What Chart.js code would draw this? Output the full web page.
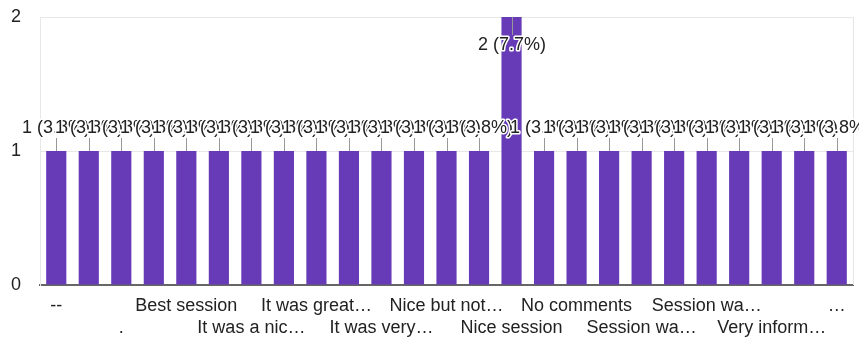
<!DOCTYPE html>
<html>
<head>
<meta charset="utf-8">
<script src="https://cdn.jsdelivr.net/npm/chart.js@4/dist/chart.umd.min.js"></script>
<style>
  html, body { margin: 0; padding: 0; background: #fff; }
  #wrap { width: 859px; height: 340px; }
</style>
</head>
<body>
<div id="wrap"><canvas id="answers"></canvas></div>
<script>
// responses, sorted like the form summary (only every other label is shown)
var categories = [
  '--', '---', '.', 'Awesome session', 'Best session', 'Good session',
  'It was a nic\u2026', 'It was good', 'It was great\u2026', 'It was helpful',
  'It was very\u2026', 'Nice', 'Nice but not\u2026', 'Nice explanation',
  'Nice session', 'Nil', 'No comments', 'Really good', 'Session wa\u2026',
  'Session was good', 'Session wa\u2026', 'Very good', 'Very inform\u2026',
  'Very nice', '\u2026'
];
var counts = [1, 1, 1, 1, 1, 1, 1, 1, 1, 1, 1, 1, 1, 1, 2, 1, 1, 1, 1, 1, 1, 1, 1, 1, 1];
var yTicks = [0, 1, 2];

var total = counts.reduce(function (a, b) { return a + b; }, 0);
var FONT = "'Liberation Sans', Arial, sans-serif";
var FS = 18;

Chart.defaults.font.family = FONT;
Chart.defaults.font.size = FS;
Chart.defaults.color = '#222';

// value labels with a small leader line, Google Forms style
var barLabels = {
  id: 'barLabels',
  afterDatasetsDraw: function (chart) {
    var ctx = chart.ctx;
    var area = chart.chartArea;
    var meta = chart.getDatasetMeta(0);
    ctx.save();
    ctx.font = FS + 'px ' + FONT;
    ctx.textAlign = 'center';
    ctx.textBaseline = 'middle';
    meta.data.forEach(function (bar, i) {
      var v = counts[i];
      var txt = v + ' (' + (v / total * 100).toFixed(1) + '%)';
      var x = Math.round(bar.x), top = bar.y, ty;
      ctx.strokeStyle = '#999';
      ctx.lineWidth = 1;
      ctx.beginPath();
      if (top - 30 < area.top) {
        ctx.moveTo(x + 0.5, top);
        ctx.lineTo(x + 0.5, top + 18);
        ty = top + 28;
      } else {
        ctx.moveTo(x + 0.5, top);
        ctx.lineTo(x + 0.5, top - 13);
        ty = top - 23;
      }
      ctx.stroke();
      ctx.lineWidth = 3;
      ctx.lineJoin = 'round';
      ctx.strokeStyle = '#fff';
      ctx.strokeText(txt, x, ty);
      ctx.fillStyle = '#222';
      ctx.fillText(txt, x, ty);
    });
    ctx.restore();
  }
};

var rightEdge = {
  id: 'rightEdge',
  beforeDatasetsDraw: function (chart) {
    var ctx = chart.ctx, a = chart.chartArea;
    ctx.save();
    ctx.strokeStyle = '#e6e6e6';
    ctx.lineWidth = 1;
    ctx.beginPath();
    ctx.moveTo(Math.round(a.right) + 0.5, a.top);
    ctx.lineTo(Math.round(a.right) + 0.5, a.bottom);
    ctx.stroke();
    ctx.restore();
  }
};

new Chart(document.getElementById('answers'), {
  type: 'bar',
  data: {
    labels: categories,
    datasets: [{
      data: counts,
      backgroundColor: '#673ab7',
      barPercentage: 0.62,
      categoryPercentage: 1
    }]
  },
  options: {
    responsive: true,
    maintainAspectRatio: false,
    animation: false,
    layout: { padding: { left: 10, right: 6, top: 17, bottom: 0 } },
    plugins: { legend: { display: false }, tooltip: { enabled: false } },
    scales: {
      x: {
        grid: { display: false },
        border: { display: true, color: '#666', width: 2 },
        afterFit: function (axis) {
          axis.height = 55;
          axis.paddingLeft = 0;
          axis.paddingRight = 0;
        },
        ticks: {
          autoSkip: false,
          maxRotation: 0,
          padding: 2,
          color: '#222',
          font: { size: FS, lineHeight: 22 / FS },
          callback: function (val, i) {
            var name = categories[i];
            if (i % 2 === 1) return '';
            return (i / 2) % 2 === 0 ? [name, ''] : ['', name];
          }
        }
      },
      y: {
        min: 0,
        max: 2,
        afterBuildTicks: function (axis) {
          axis.ticks = yTicks.map(function (v) { return { value: v }; });
        },
        afterFit: function (axis) {
          axis.width = 30;
          axis.paddingTop = 0;
          axis.paddingBottom = 0;
        },
        grid: { color: '#e8e8e8', drawTicks: false },
        border: { display: true, color: '#e8e8e8' },
        ticks: { padding: 19, color: '#222', font: { size: FS } }
      }
    }
  },
  plugins: [rightEdge, barLabels]
});
</script>
</body>
</html>
